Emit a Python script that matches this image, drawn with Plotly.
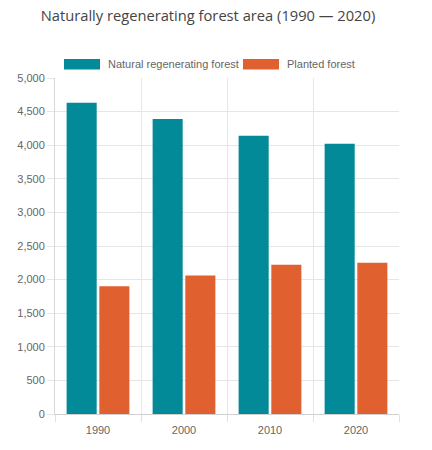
import plotly.graph_objects as go

years = ["1990", "2000", "2010", "2020"]
natural = [4630, 4390, 4140, 4020]
planted = [1900, 2060, 2220, 2250]
series_names = ["Natural regenerating forest", "Planted forest"]
colors = ["#028A99", "#E1602F"]
title_text = "Naturally regenerating forest area (1990 — 2020)"

W, H = 432, 450
L, R, T, B = 55, 33, 78, 36
pw, ph = W - L - R, H - T - B

def px_x(x):
    return (x - L) / pw

def px_y(y):
    return (H - B - y) / ph

fig = go.Figure()
for name, vals, col in zip(series_names, [natural, planted], colors):
    fig.add_trace(go.Bar(x=years, y=vals, name=name, marker=dict(color=col, line=dict(width=0)),
                         showlegend=False))

# custom legend (wide colour boxes)
legend_boxes = [(64, 100, 106), (243, 279, 285)]
for (x0, x1, tx), name, col in zip(legend_boxes, series_names, colors):
    fig.add_shape(type="rect", xref="paper", yref="paper",
                  x0=px_x(x0), x1=px_x(x1), y0=px_y(69.5), y1=px_y(59),
                  fillcolor=col, line=dict(width=0))
    fig.add_annotation(xref="paper", yref="paper", x=px_x(tx), y=px_y(64),
                       xanchor="left", yanchor="middle", showarrow=False,
                       text=name, font=dict(family="Liberation Sans, Arial", size=11, color="#666"))

fig.update_layout(
    width=W, height=H,
    margin=dict(l=L, r=R, t=T, b=B),
    paper_bgcolor="white", plot_bgcolor="white",
    barmode="group", bargap=0.24, bargroupgap=0.08,
    title=dict(text=title_text, x=208 / W, xanchor="center", y=1 - 16 / H, yanchor="middle",
               yref="container",
               font=dict(family="Open Sans", size=14.7, color="#444", weight=500)),
    font=dict(family="Liberation Sans, Arial", size=11, color="#666"),
)
fig.update_xaxes(type="category", tickson="boundaries", showgrid=True, gridcolor="#e6e6e6",
                 ticks="outside", ticklen=7, tickcolor="#e0e0e0", showline=True, linecolor="#d0d0d0",
                 ticklabelstandoff=6,
                 tickfont=dict(size=11, color="#666"))
fig.update_yaxes(range=[0, 5000], dtick=500, tickformat=",", showgrid=True, gridcolor="#e6e6e6",
                 ticks="outside", ticklen=7, tickcolor="#e6e6e6", showline=True, linecolor="#d8d8d8",
                 zeroline=False, tickfont=dict(size=11, color="#666"))

fig.write_html("out.html")
